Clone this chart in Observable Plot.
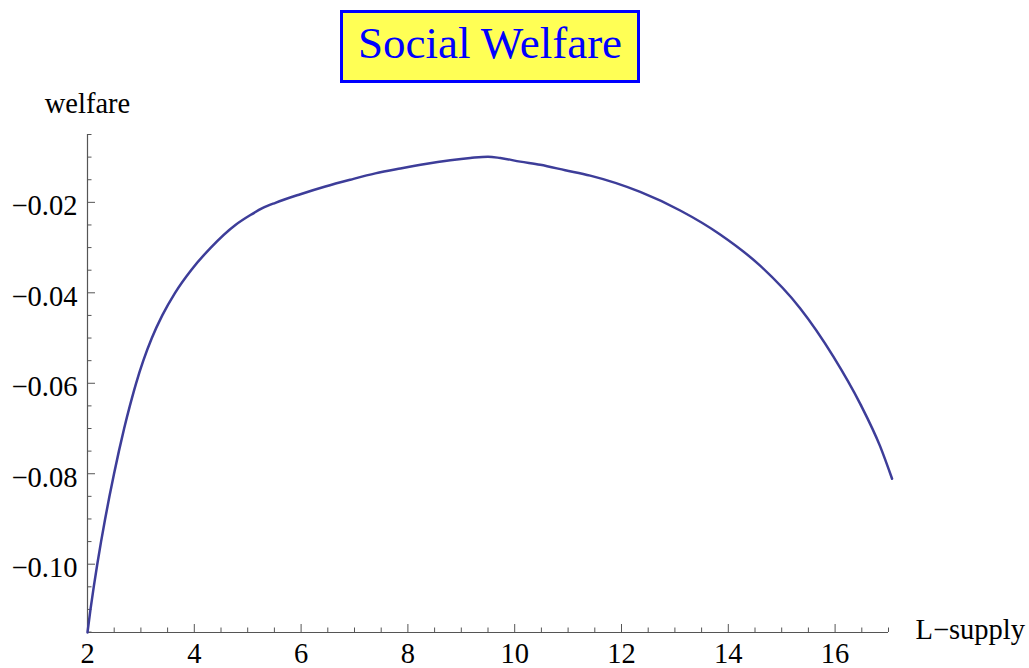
<!DOCTYPE html>
<html>
<head>
<meta charset="utf-8">
<script src="https://cdn.jsdelivr.net/npm/d3@7"></script>
<script src="https://cdn.jsdelivr.net/npm/@observablehq/plot@0.6"></script>
<style>
  html, body { margin: 0; padding: 0; background: #fff; }
  #wrap { position: relative; width: 1029px; height: 668px; }
  #title {
    position: absolute; left: 340px; top: 10px; width: 300px; height: 73px;
    box-sizing: border-box; border: 3px solid #0000ff; background: #ffff55;
    color: #0000ff; font-family: "Liberation Serif", "Times New Roman", serif;
    font-size: 45px; line-height: 60px; text-align: center; white-space: nowrap;
  }
</style>
</head>
<body>
<div id="wrap">
  <div id="title">Social Welfare</div>
</div>
<script>
// L-supply values and social welfare
const supply  = [2.0, 2.056, 2.117, 2.183, 2.254, 2.330, 2.411, 2.497, 2.588, 2.686, 2.793, 2.910, 3.045, 3.205, 3.400, 3.640, 3.940, 4.310, 4.770, 5.051, 5.275, 5.519, 5.987, 6.454, 6.922, 7.390, 7.858, 8.326, 8.794, 9.168, 9.50, 9.730, 10.104, 10.478, 10.946, 11.414, 12.350, 13.099, 13.847, 14.596, 15.344, 15.968, 16.473, 16.842, 17.067];
const welfare = [-0.1151, -0.110, -0.105, -0.100, -0.095, -0.090, -0.085, -0.080, -0.075, -0.070, -0.065, -0.060, -0.055, -0.050, -0.045, -0.040, -0.035, -0.030, -0.025, -0.0228, -0.0213, -0.0201, -0.0182, -0.0165, -0.0150, -0.0136, -0.0125, -0.0115, -0.0107, -0.0102, -0.0099, -0.0102, -0.0110, -0.0117, -0.0129, -0.0141, -0.0177, -0.0218, -0.0271, -0.0340, -0.0434, -0.0541, -0.0646, -0.0739, -0.0811];

const xMajor = [2, 4, 6, 8, 10, 12, 14, 16];
const xMinor = [2.5, 3, 3.5, 4.5, 5, 5.5, 6.5, 7, 7.5, 8.5, 9, 9.5, 10.5, 11, 11.5, 12.5, 13, 13.5, 14.5, 15, 15.5, 16.5, 17];
const yMajor = [-0.02, -0.04, -0.06, -0.08, -0.10];
const yMinor = [-0.005, -0.01, -0.015, -0.025, -0.03, -0.035, -0.045, -0.05, -0.055, -0.065, -0.07, -0.075, -0.085, -0.09, -0.095, -0.105, -0.11, -0.115];

const xDomain = [2, 17];
const yDomain = [-0.1151, -0.005];
const xLabel = "L\u2212supply";
const yLabel = "welfare";

const data = supply.map((s, i) => ({s, w: welfare[i]}));
const axisColor = "#555";
const font = "'Liberation Serif', 'Times New Roman', serif";
const fs = 28.5;

const chart = Plot.plot({
  width: 1029,
  height: 668,
  marginLeft: 87,
  marginRight: 141,
  marginTop: 134,
  marginBottom: 36,
  style: {fontFamily: font, background: "transparent", overflow: "visible"},
  x: {domain: xDomain, axis: null},
  y: {domain: yDomain, axis: null},
  marks: [
    // axis lines
    Plot.ruleX([xDomain[0]], {y1: yDomain[0], y2: yDomain[1], stroke: axisColor, strokeWidth: 1.2}),
    Plot.ruleY([yDomain[0]], {x1: xDomain[0], x2: xDomain[1], stroke: axisColor, strokeWidth: 1.2}),
    // x ticks (inward)
    Plot.ruleX(xMajor, {y1: () => yDomain[0], y2: () => yDomain[0], insetTop: -8, stroke: axisColor}),
    Plot.ruleX(xMinor, {y1: () => yDomain[0], y2: () => yDomain[0], insetTop: -4.5, stroke: axisColor}),
    // y ticks (inward)
    Plot.ruleY(yMajor, {x1: () => xDomain[0], x2: () => xDomain[0], insetRight: -8, stroke: axisColor}),
    Plot.ruleY(yMinor, {x1: () => xDomain[0], x2: () => xDomain[0], insetRight: -4.5, stroke: axisColor}),
    // tick labels
    Plot.text(xMajor, {x: d => d, y: () => yDomain[0], text: d => String(d), dy: 20.9, fontSize: fs, fill: "#000"}),
    Plot.text(yMajor, {x: () => xDomain[0], y: d => d, text: d => d3.format(".2f")(d), textAnchor: "end", dx: -10, dy: 3.7, fontSize: fs, fill: "#000"}),
    // axis labels
    Plot.text([yLabel], {x: () => xDomain[0], y: () => yDomain[1], text: d => d, dy: -31, fontSize: fs, fill: "#000"}),
    Plot.text([xLabel], {x: () => xDomain[1], y: () => yDomain[0], text: d => d, textAnchor: "start", dx: 27, dy: -3, fontSize: fs, fill: "#000"}),
    // curve
    Plot.line(data, {x: "s", y: "w", stroke: "#3d3d99", strokeWidth: 2.5, curve: "monotone-x"})
  ]
});
document.getElementById("wrap").prepend(chart);
chart.style.position = "absolute";
chart.style.left = "0px";
chart.style.top = "0px";
</script>
</body>
</html>
